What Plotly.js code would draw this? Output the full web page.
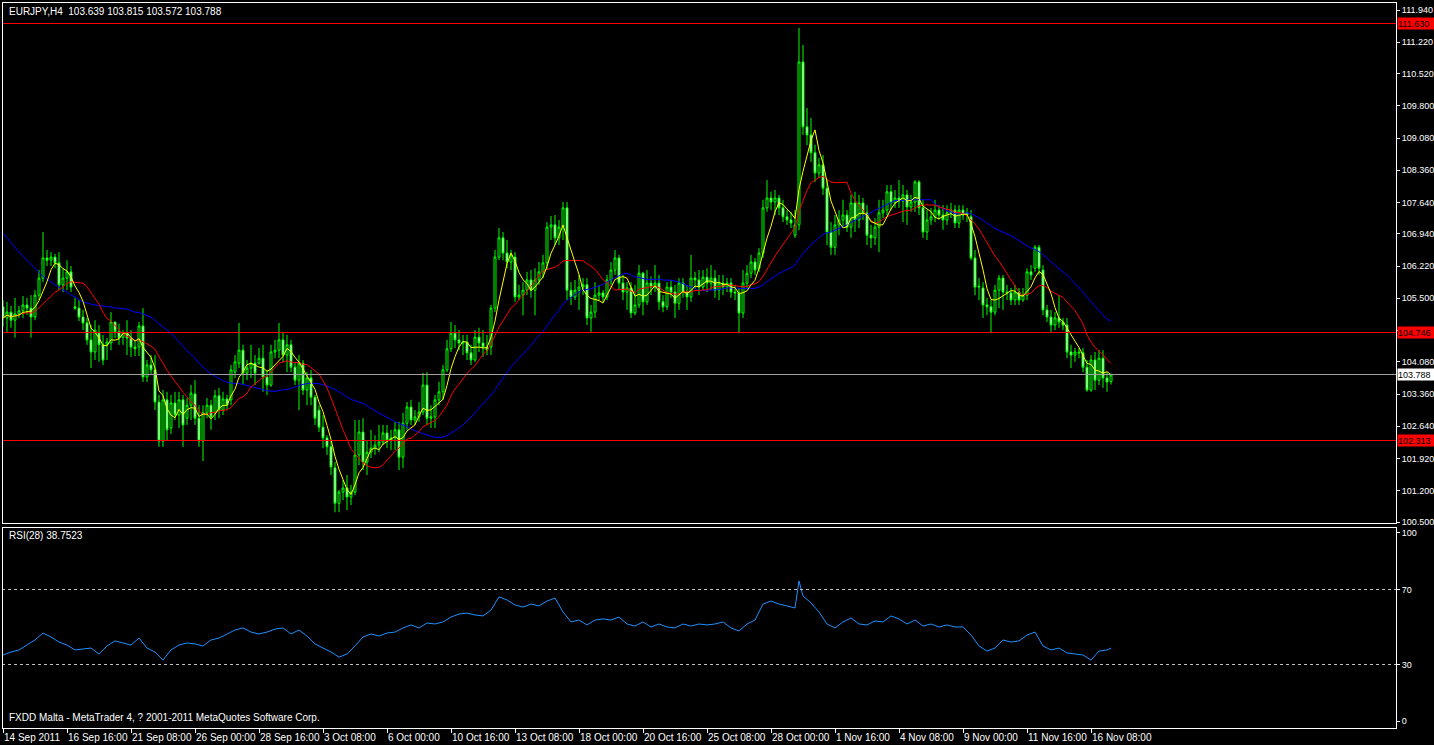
<!DOCTYPE html>
<html>
<head>
<meta charset="utf-8">
<script src="https://cdn.plot.ly/plotly-3.0.1.min.js"></script>
<style>
html,body{margin:0;padding:0;background:#000;}
#chart{width:1434px;height:745px;}
#chart .shapelayer path{shape-rendering:crispEdges;}
#chart .ytick, #chart .xtick{shape-rendering:crispEdges;}
</style>
</head>
<body>
<div id="chart"></div>
<script>
// ---- Data (EURJPY H4, bar 0 = 14 Sep 2011 00:00) ----
const opens = [
105.31,105.06,105.19,105.01,105.15,105.22,105.35,105.28,105.08,105.57,
105.95,106.40,106.35,106.42,106.29,105.80,105.95,106.09,105.31,105.28,
105.08,104.95,104.57,104.30,104.72,104.46,104.46,104.50,104.97,104.75,
104.63,104.72,104.61,104.41,104.41,104.88,103.74,104.01,103.90,103.18,
102.31,103.23,102.60,103.16,102.89,103.23,102.82,103.11,103.36,102.82,
102.31,102.94,103.11,102.94,103.32,103.00,103.25,103.23,103.85,104.05,
104.34,103.83,103.94,104.05,104.05,104.16,103.74,103.56,104.30,104.34,
104.57,104.23,104.46,103.96,103.67,104.05,103.45,103.72,103.29,103.00,
102.62,102.38,102.18,101.71,100.92,101.17,101.26,101.06,101.17,102.00,
102.51,101.84,102.06,102.15,102.22,102.29,102.49,102.33,102.38,102.56,
101.95,102.71,103.07,102.78,102.85,102.96,103.56,102.82,102.85,103.23,
103.41,103.90,104.37,104.72,104.57,104.50,104.52,104.28,104.12,104.63,
104.50,104.41,104.41,105.28,106.42,106.85,106.51,106.31,106.42,105.53,
105.57,105.68,105.91,105.68,105.91,106.09,106.29,107.09,107.14,106.85,
107.09,107.52,105.68,105.53,105.68,105.75,105.80,105.06,105.19,105.57,
105.62,105.53,105.91,106.13,106.40,105.84,105.64,105.73,105.17,105.35,
106.06,105.42,105.84,105.75,105.84,105.42,105.31,105.75,105.64,105.39,
105.84,105.64,105.53,105.95,105.91,105.75,105.97,105.84,105.95,105.68,
105.84,105.75,105.84,105.64,105.62,105.17,105.84,106.06,106.31,106.17,
106.51,107.52,107.74,107.65,107.74,107.52,107.32,107.25,106.91,107.14,
110.78,109.33,109.15,108.75,108.30,108.48,107.96,106.98,106.64,107.14,
107.25,107.36,107.09,107.63,107.25,107.63,107.41,106.91,106.85,107.09,
107.41,107.47,107.88,107.63,107.74,107.67,107.81,107.54,107.65,108.10,
107.52,106.98,107.25,107.32,107.47,107.36,107.25,107.41,107.47,107.18,
107.47,107.36,107.32,106.40,105.75,105.73,105.35,105.31,105.19,105.68,
105.95,105.64,105.62,105.46,105.64,105.46,105.57,106.09,106.17,106.64,
106.13,105.24,105.08,104.90,105.06,104.97,104.90,104.30,104.23,104.30,
104.28,103.96,103.45,104.12,103.67,104.16,103.72,103.639
];
const highs = [
105.46,105.42,105.33,105.51,105.33,105.55,105.51,105.57,105.68,106.13,
106.98,106.58,106.53,106.49,106.53,106.17,106.35,106.22,105.51,105.46,
105.24,105.06,104.90,105.01,104.90,104.68,104.61,105.19,104.97,104.93,
104.79,105.01,104.79,104.57,104.97,105.28,104.12,104.23,104.23,103.34,
103.45,103.41,103.34,103.41,103.41,103.34,103.27,103.56,103.67,103.11,
103.11,103.27,103.23,103.45,103.50,103.41,103.34,104.01,104.23,104.95,
104.46,104.12,104.46,104.23,104.39,104.46,103.90,104.46,104.57,104.95,
104.75,104.68,104.57,104.08,104.23,104.12,103.85,103.90,103.34,103.11,
102.89,102.44,102.33,101.84,101.22,101.44,101.55,101.33,102.78,102.78,
102.82,102.33,102.56,102.44,102.67,102.67,102.67,102.56,102.74,102.74,
102.94,103.18,103.23,103.00,103.18,103.83,103.85,103.11,103.34,103.63,
104.01,104.57,104.97,104.90,104.79,104.68,104.68,104.46,104.79,104.84,
104.79,104.68,105.35,106.58,107.07,106.98,106.80,106.58,106.53,105.80,
105.86,106.09,106.13,106.17,106.31,106.47,107.20,107.34,107.36,107.25,
107.65,107.65,105.86,105.91,106.02,105.95,105.95,105.35,105.86,105.80,
105.68,106.02,106.31,106.58,106.47,106.02,105.86,105.86,105.80,106.24,
106.09,106.13,105.99,106.24,106.02,105.57,105.86,105.91,105.80,105.95,
105.95,105.80,106.47,106.09,106.13,106.13,106.17,106.24,106.13,106.02,
106.02,105.95,105.95,105.80,105.73,106.13,106.24,106.47,106.40,106.62,
107.70,108.14,107.88,107.92,107.81,107.70,107.47,107.43,107.47,111.54,
111.16,109.75,109.53,108.93,108.63,108.70,108.14,107.20,107.36,107.47,
107.70,107.47,107.81,107.88,107.81,107.74,107.58,107.14,107.29,107.70,
107.70,108.03,108.03,107.92,108.14,108.03,107.92,107.81,108.14,108.14,
107.70,107.47,107.52,107.70,107.58,107.58,107.58,107.63,107.58,107.58,
107.58,107.52,107.47,106.58,105.95,105.86,105.51,105.46,105.80,106.02,
106.02,105.80,105.73,105.80,105.73,105.73,106.17,106.24,106.69,106.69,
106.24,105.35,105.24,105.19,105.57,105.06,105.06,104.46,104.39,104.39,
104.39,104.12,104.23,104.30,104.34,104.34,103.85,103.815
];
const lows = [
104.86,104.75,104.84,104.62,105.06,105.06,105.13,104.62,105.01,105.46,
105.86,106.22,106.22,106.17,105.68,105.64,105.68,105.64,105.24,104.99,
104.79,104.46,103.94,104.12,104.08,104.01,104.12,104.34,104.61,104.46,
104.46,104.23,104.19,104.21,104.21,103.63,103.63,103.79,103.00,102.18,
102.18,102.33,102.47,102.78,102.60,102.18,102.67,102.78,102.67,102.18,
101.86,102.82,102.56,102.78,102.82,102.89,103.00,103.11,103.72,103.94,
103.56,103.67,103.72,103.56,104.01,103.41,103.34,103.52,104.16,104.16,
104.08,103.85,103.85,103.56,103.00,103.34,103.11,103.11,102.67,102.51,
102.15,102.00,101.55,100.72,100.72,100.99,100.77,100.88,101.10,101.77,
101.66,101.55,101.93,102.00,102.06,102.22,102.15,102.11,102.11,101.66,
101.71,102.56,102.67,102.67,102.74,102.89,102.67,102.60,102.60,103.11,
103.23,103.85,104.30,104.39,104.34,104.23,104.12,104.01,104.08,104.30,
104.19,104.23,104.23,105.19,106.35,106.35,106.17,106.13,105.42,105.46,
105.12,105.57,105.51,105.12,105.80,105.95,106.13,106.80,106.69,106.69,
106.80,105.46,105.35,105.46,105.24,105.57,104.90,104.75,105.06,105.46,
105.42,105.46,105.80,106.02,105.68,105.46,105.24,105.06,105.12,105.28,
105.12,105.35,105.57,105.64,105.24,105.19,105.24,105.51,105.06,105.24,
105.51,105.24,105.42,105.71,105.57,105.68,105.64,105.68,105.51,105.46,
105.57,105.64,105.51,105.46,104.72,105.06,105.73,105.95,106.02,106.09,
106.40,107.43,107.47,107.36,107.36,107.20,107.14,107.07,106.85,107.02,
109.15,108.92,108.55,108.10,108.19,107.81,106.69,106.47,106.47,106.91,
107.07,106.98,106.85,106.98,107.07,107.25,106.69,106.62,106.69,106.53,
107.29,107.36,107.47,107.52,107.52,107.20,107.14,107.43,107.43,107.36,
106.85,106.80,107.14,107.20,107.25,107.03,107.14,107.29,107.07,107.07,
107.25,107.20,106.35,105.57,105.46,105.06,105.12,104.72,105.12,105.28,
105.24,105.46,105.35,105.35,105.35,105.42,105.46,105.91,106.09,106.02,
105.12,104.97,104.75,104.79,104.84,104.79,104.16,103.94,104.08,104.16,
103.85,103.41,103.41,103.45,103.56,103.50,103.41,103.572
];
const closes = [
105.06,105.19,105.01,105.15,105.22,105.35,105.28,105.08,105.57,105.95,
106.40,106.35,106.42,106.29,105.80,105.95,106.09,105.75,105.28,105.08,
104.95,104.57,104.30,104.79,104.46,104.12,104.52,104.97,104.75,104.61,
104.72,104.61,104.41,104.37,104.88,103.74,104.01,103.90,103.18,102.31,
103.23,102.56,103.16,102.89,103.23,102.67,103.11,103.38,102.82,102.31,
102.94,103.11,102.85,103.32,103.00,103.25,103.11,103.90,104.08,104.34,
103.83,103.94,104.05,103.83,104.16,103.74,103.56,104.30,104.34,104.57,
104.23,104.46,103.96,103.67,104.05,103.45,103.72,103.29,102.82,102.62,
102.38,102.18,101.73,100.92,101.17,101.26,101.06,101.17,102.00,102.51,
101.84,102.06,102.15,102.22,102.29,102.49,102.33,102.38,102.56,101.95,
102.71,103.07,102.78,102.85,102.96,103.56,102.82,102.85,103.23,103.41,
103.90,104.37,104.72,104.57,104.50,104.52,104.28,104.12,104.63,104.50,
104.41,104.34,105.28,106.42,106.85,106.51,106.31,106.47,105.53,105.57,
105.68,105.91,105.68,105.91,106.09,106.29,107.09,107.14,106.85,107.09,
107.52,105.68,105.53,105.68,105.75,105.80,105.06,105.19,105.57,105.62,
105.53,105.91,106.13,106.40,105.84,105.64,105.73,105.17,105.35,106.06,
105.42,105.84,105.75,105.84,105.42,105.31,105.75,105.64,105.39,105.84,
105.64,105.53,105.95,105.91,105.75,105.97,105.84,105.95,105.68,105.84,
105.75,105.84,105.64,105.62,105.17,105.84,106.06,106.31,106.13,106.51,
107.52,107.74,107.65,107.74,107.52,107.32,107.25,107.18,107.14,110.78,
109.33,109.15,108.75,108.30,108.48,107.96,106.98,106.64,107.14,107.25,
107.36,107.09,107.63,107.25,107.63,107.41,106.91,106.85,107.09,107.41,
107.47,107.88,107.63,107.74,107.67,107.81,107.54,107.65,108.10,107.52,
106.98,107.25,107.32,107.47,107.36,107.25,107.41,107.47,107.18,107.47,
107.36,107.41,106.40,105.75,105.77,105.35,105.31,105.19,105.68,105.95,
105.64,105.62,105.46,105.64,105.46,105.57,106.09,106.02,106.64,106.17,
105.24,105.08,104.90,105.06,104.97,104.90,104.30,104.23,104.30,104.28,
103.96,103.45,104.12,103.67,104.16,103.72,103.63,103.788
];
// slow MA values read for the first bars (its window reaches before the visible history)
const blueStart = [
106.96,106.85,106.73,106.62,106.53,106.44,106.35,106.24,106.15,106.06,
105.99,105.93,105.86,105.80,105.75,105.68,105.64,105.57,105.53,105.46,
105.42,105.39,105.37,105.35,105.33,105.33,105.31,105.31,105.28,105.28,
105.26,105.26,105.22
];
// RSI(28)
const rsiBars = [0,2,4,6,8,10,12,14,16,18,20,22,24,26,28,30,32,34,36,38,40,42,44,46,48,50,52,54,56,58,
60,62,64,66,68,70,72,74,76,78,80,82,84,86,88,90,92,94,96,98,100,102,104,106,108,110,112,114,116,118,
120,122,124,126,128,130,132,134,136,138,140,142,144,146,148,150,152,154,156,158,160,162,164,166,168,170,
172,174,176,178,180,182,184,186,188,190,192,194,196,198,199,200,202,204,206,208,210,212,214,216,218,220,
222,224,226,228,230,232,234,236,238,240,242,244,246,248,250,252,254,256,258,260,262,264,266,268,270,272,
274,276,277];
const rsiValues = [35.1,36.7,37.8,40.4,43.1,46.8,44.7,42.0,40.4,37.8,38.3,38.8,35.6,39.9,42.6,41.5,40.4,44.1,38.8,36.7,
32.4,37.8,40.4,41.5,41.0,39.9,43.1,44.1,46.3,48.4,49.5,47.3,46.3,47.3,48.9,49.5,46.3,48.4,45.2,41.0,
38.8,36.7,34.0,35.6,39.9,44.7,46.3,45.2,46.8,47.3,49.5,51.1,49.5,52.1,51.6,52.7,55.3,56.9,57.4,56.4,
55.9,59.0,66.0,64.4,61.7,60.6,62.2,61.2,63.8,65.4,58.0,52.7,53.7,51.1,53.7,54.3,53.7,55.3,51.6,50.5,
52.7,50.0,51.6,50.0,49.5,51.6,50.5,51.6,51.1,51.6,52.7,49.5,47.9,51.6,53.7,62.2,63.8,62.2,61.2,60.1,
74.5,66.5,62.8,58.0,51.6,49.5,52.7,54.8,51.6,51.1,53.2,52.7,55.9,54.3,51.6,53.7,50.5,51.6,50.0,51.1,
50.0,50.0,45.7,39.9,37.2,38.8,43.1,42.0,42.6,45.7,47.3,39.9,37.8,38.8,36.2,35.6,35.1,32.4,37.2,37.8,
38.75];
const levelValues = [111.630, 104.746, 102.313];
const levelLabels = ["111.630", "104.746", "102.313"];
const bidValue = 103.788;
const bidLabel = "103.788";
// 104.780 sits under the 104.746 level label in the reference, so its text is hidden
const priceTicks = [111.94,111.22,110.52,109.80,109.08,108.36,107.64,106.94,106.22,105.50,104.78,104.08,103.36,102.64,101.92,101.20,100.50];
const priceTickText = ["111.940","111.220","110.520","109.800","109.080","108.360","107.640","106.940","106.220","105.500","","104.080","103.360","102.640","101.920","101.200","100.500"];
const rsiTicks = [0, 30, 70, 100];
const rsiLevels = [70, 30];
const timeTickBars = [0,16,32,48,64,80,96,112,128,144,160,176,192,208,224,240,256,272];
const timeTickLabels = ["14 Sep 2011","16 Sep 16:00","21 Sep 08:00","26 Sep 00:00","28 Sep 16:00","3 Oct 08:00","6 Oct 00:00","10 Oct 16:00","13 Oct 08:00","18 Oct 00:00","20 Oct 16:00","25 Oct 08:00","28 Oct 00:00","1 Nov 16:00","4 Nov 08:00","9 Nov 00:00","11 Nov 16:00","16 Nov 08:00"];

// ---- indicators ----
function sma(vals, n){
  const out = [];
  for (let i = 0; i < vals.length; i++){
    const s = Math.max(0, i - n + 1);
    let sum = 0;
    for (let j = s; j <= i; j++) sum += vals[j];
    out.push(sum / (i - s + 1));
  }
  return out;
}
const bars = closes.map((_, i) => i);
const maFast = sma(closes, 5);
const maMid = sma(closes, 13);
const ma34 = sma(closes, 34);
const maSlow = bars.map(i => i < blueStart.length ? blueStart[i] : ma34[i]);

const FONT = 'Liberation Sans, Arial, sans-serif';
const AXFONT = {family: FONT, size: 9, color: '#FFFFFF'};

const traces = [
  {
    type: 'candlestick', x: bars, open: opens, high: highs, low: lows, close: closes,
    xaxis: 'x', yaxis: 'y', hoverinfo: 'skip', whiskerwidth: 0,
    increasing: {line: {color: '#00FF00', width: 1}, fillcolor: '#000000'},
    decreasing: {line: {color: '#00FF00', width: 1}, fillcolor: '#FFFFFF'}
  },
  {type: 'scatter', mode: 'lines', x: bars, y: maSlow, line: {color: '#0000FF', width: 1}, xaxis: 'x', yaxis: 'y', hoverinfo: 'skip'},
  {type: 'scatter', mode: 'lines', x: bars, y: maMid, line: {color: '#FF0000', width: 1}, xaxis: 'x', yaxis: 'y', hoverinfo: 'skip'},
  {type: 'scatter', mode: 'lines', x: bars, y: maFast, line: {color: '#FFFF00', width: 1}, xaxis: 'x', yaxis: 'y', hoverinfo: 'skip'},
  {type: 'scatter', mode: 'lines', x: rsiBars, y: rsiValues, line: {color: '#1E90FF', width: 1}, xaxis: 'x', yaxis: 'y2', hoverinfo: 'skip'}
];

const shapes = [];
levelValues.forEach(v => shapes.push({type: 'line', xref: 'paper', yref: 'y', x0: 0, x1: 1, y0: v, y1: v, line: {color: '#FF0000', width: 1}}));
shapes.push({type: 'line', xref: 'paper', yref: 'y', x0: 0, x1: 1, y0: bidValue, y1: bidValue, line: {color: '#A0A0A0', width: 1}});
rsiLevels.forEach(v => shapes.push({type: 'line', xref: 'paper', yref: 'y2', x0: 0, x1: 1, y0: v, y1: v, line: {color: '#C0C0C0', width: 1, dash: '3px,3px'}}));
shapes.push({type: 'rect', xref: 'paper', yref: 'y domain', x0: 0, x1: 1, y0: 0, y1: 1, line: {color: '#FFFFFF', width: 1}});
shapes.push({type: 'rect', xref: 'paper', yref: 'y2 domain', x0: 0, x1: 1, y0: 0, y1: 1, line: {color: '#FFFFFF', width: 1}});

const annotations = [];
timeTickBars.forEach((b, k) => annotations.push({
  x: b, xref: 'x', y: -0.0124, yref: 'paper', text: timeTickLabels[k], showarrow: false,
  xanchor: 'left', yanchor: 'middle', xshift: -1, font: {family: FONT, size: 10, color: '#FFFFFF'}
}));
levelValues.forEach((v, k) => annotations.push({
  x: 1, xref: 'paper', y: v, yref: 'y', text: levelLabels[k], showarrow: false,
  xanchor: 'left', yanchor: 'middle', xshift: 1, bgcolor: '#FF0000', borderpad: 0, width: 37, height: 11, align: 'left',
  font: {family: FONT, size: 9, color: '#000000'}
}));
annotations.push({
  x: 1, xref: 'paper', y: bidValue, yref: 'y', text: bidLabel, showarrow: false,
  xanchor: 'left', yanchor: 'middle', xshift: 1, bgcolor: '#FFFFFF', borderpad: 0, width: 37, height: 11, align: 'left',
  font: {family: FONT, size: 9, color: '#000000'}
});
annotations.push({x: 0, xref: 'paper', y: 0.9876, yref: 'paper', xshift: 5, text: 'EURJPY,H4  103.639 103.815 103.572 103.788', showarrow: false, xanchor: 'left', yanchor: 'middle', font: {family: FONT, size: 10, color: '#FFFFFF'}});
annotations.push({x: 0, xref: 'paper', y: 0.2645, yref: 'paper', xshift: 5, text: 'RSI(28) 38.7523', showarrow: false, xanchor: 'left', yanchor: 'middle', font: {family: FONT, size: 10, color: '#FFFFFF'}});
annotations.push({x: 0, xref: 'paper', y: 0.0138, yref: 'paper', xshift: 5, text: 'FXDD Malta - MetaTrader 4, ? 2001-2011 MetaQuotes Software Corp.', showarrow: false, xanchor: 'left', yanchor: 'middle', font: {family: FONT, size: 10, color: '#FFFFFF'}});

const layout = {
  width: 1434, height: 745,
  paper_bgcolor: '#000000', plot_bgcolor: '#000000',
  margin: {l: 2, r: 38, t: 2, b: 17, pad: 0},
  showlegend: false,
  font: {family: FONT, size: 10, color: '#FFFFFF'},
  xaxis: {
    anchor: 'y2', range: [-0.25, 348.25], showgrid: false, zeroline: false, showline: false,
    rangeslider: {visible: false}, tickmode: 'array', tickvals: timeTickBars, showticklabels: false,
    ticks: 'outside', ticklen: 4, tickcolor: '#FFFFFF', tickwidth: 1, fixedrange: true
  },
  yaxis: {
    domain: [0.281, 1], range: [100.456, 112.12], side: 'right', showgrid: false, zeroline: false, showline: false,
    tickmode: 'array', tickvals: priceTicks, ticktext: priceTickText, ticks: 'outside', ticklen: 3,
    tickcolor: '#FFFFFF', tickfont: AXFONT, fixedrange: true
  },
  yaxis2: {
    domain: [0, 0.2755], range: [-3.72, 102.66], side: 'right', showgrid: false, zeroline: false, showline: false,
    tickmode: 'array', tickvals: rsiTicks, ticktext: rsiTicks.map(String), ticks: 'outside', ticklen: 3,
    tickcolor: '#FFFFFF', tickfont: AXFONT, fixedrange: true
  },
  shapes: shapes,
  annotations: annotations
};

Plotly.newPlot('chart', traces, layout, {displayModeBar: false, staticPlot: true});
</script>
</body>
</html>
